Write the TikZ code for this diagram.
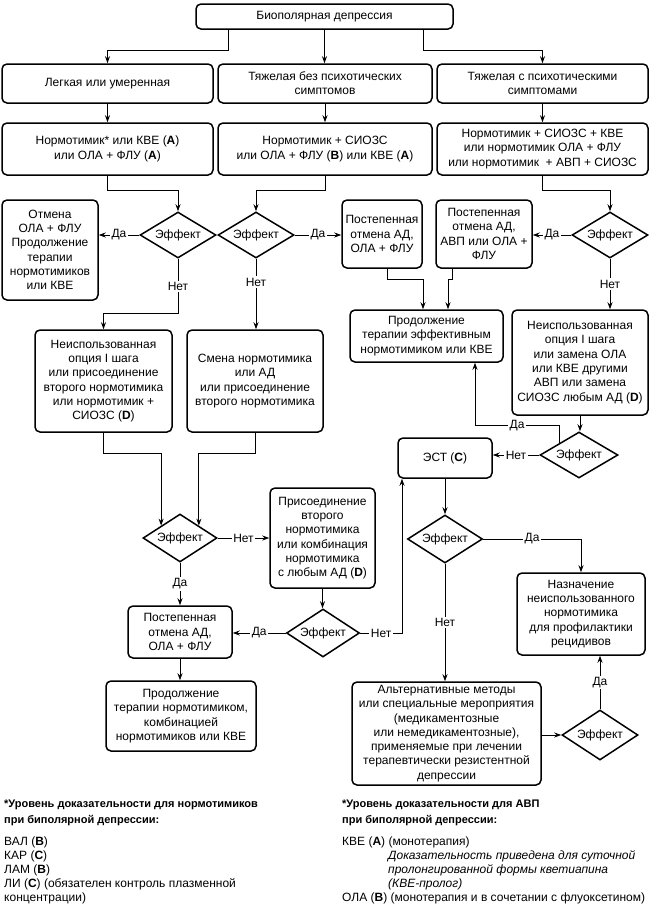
\documentclass[tikz,border=0pt]{standalone}
\usepackage{fontspec}
\setmainfont{Liberation Sans}
\usetikzlibrary{shapes.geometric,arrows.meta}
\begin{document}
\begin{tikzpicture}[x=1pt,y=-1pt,
 every node/.style={font=\fontsize{12}{14.3}\selectfont},
 box/.style={draw, rounded corners=5pt, line width=1.5pt, align=center, inner sep=1pt},
 dia/.style={draw, diamond, line width=1.5pt, inner sep=0pt, shape aspect=1.65},
 arr/.style={line width=1pt, -{Stealth[length=7pt,width=5pt]}},
 lbl/.style={fill=white, inner sep=1.5pt},
 fn/.style={anchor=west, inner sep=0pt},
 fnh/.style={anchor=west, inner sep=0pt, font=\bfseries\fontsize{11}{13.5}\selectfont},
 fni/.style={anchor=west, inner sep=0pt, font=\itshape\fontsize{12}{14.3}\selectfont},
]
\useasboundingbox[fill=white] (0,0) rectangle (650,914);

\node[box, minimum width=257pt, minimum height=25pt] (top) at (324.5,16.5) {Биополярная депрессия};

\node[box, minimum width=211pt, minimum height=39pt] (a1) at (107.5,83.5) {Легкая или умеренная};
\node[box, minimum width=214pt, minimum height=39pt] (a2) at (325,83.5) {Тяжелая без психотических\\симптомов};
\node[box, minimum width=211pt, minimum height=39pt] (a3) at (542.5,83.5) {Тяжелая с психотическими\\симптомами};

\node[box, minimum width=211pt, minimum height=52pt] (b1) at (107.5,149) {Нормотимик* или КВЕ (\textbf{A})\\или ОЛА + ФЛУ (\textbf{A})};
\node[box, minimum width=214pt, minimum height=52pt] (b2) at (325,149) {Нормотимик + СИОЗС\\или ОЛА + ФЛУ (\textbf{B}) или КВЕ (\textbf{A})};
\node[box, minimum width=211pt, minimum height=52pt] (b3) at (542.5,149) {Нормотимик + СИОЗС + КВЕ\\или нормотимик ОЛА + ФЛУ\\или нормотимик~ + АВП + СИОЗС};

\node[dia, minimum width=76pt, minimum height=46pt] (D1) at (178,235) {Эффект};
\node[dia, minimum width=76pt, minimum height=46pt] (D2) at (256,235) {Эффект};
\node[dia, minimum width=76pt, minimum height=46pt] (D3) at (610,235) {Эффект};

\node[box, minimum width=96pt, minimum height=100pt] (c1) at (50,250) {Отмена\\ОЛА + ФЛУ\\Продолжение\\терапии\\нормотимиков\\или КВЕ};
\node[box, minimum width=80pt, minimum height=68pt] (c2) at (382,234) {Постепенная\\отмена АД,\\ОЛА + ФЛУ};
\node[box, minimum width=96pt, minimum height=68pt] (c3) at (484,234) {Постепенная\\отмена АД,\\АВП или ОЛА +\\ФЛУ};

\node[box, minimum width=153pt, minimum height=52pt] (d) at (426.5,336) {Продолжение\\терапии эффективным\\нормотимиком или КВЕ};

\node[box, minimum width=137pt, minimum height=102pt] (e1) at (103.5,381) {Неиспользованная\\опция I шага\\или присоединение\\второго нормотимика\\или нормотимик +\\СИОЗС (\textbf{D})};
\node[box, minimum width=136pt, minimum height=102pt] (e2) at (255,381) {Смена нормотимика\\или АД\\или присоединение\\второго нормотимика};
\node[box, minimum width=136pt, minimum height=105pt] (e3) at (580,362.5) {Неиспользованная\\опция I шага\\или замена ОЛА\\или КВЕ другими\\АВП или замена\\СИОЗС любым АД (\textbf{D})};

\node[dia, minimum width=78pt, minimum height=46pt] (D4) at (579,455) {Эффект};
\node[box, minimum width=94pt, minimum height=40pt] (EST) at (445,458) {ЭСТ (\textbf{C})};
\node[dia, minimum width=75pt, minimum height=48pt] (D5) at (445,539) {Эффект};
\node[box, minimum width=128pt, minimum height=82pt] (NA) at (581,614) {Назначение\\неиспользованного\\нормотимика\\для профилактики\\рецидивов};
\node[box, minimum width=189pt, minimum height=103pt] (ALT) at (446.5,733.5) {Альтернативные методы\\или специальные мероприятия\\(медикаментозные\\или немедикаментозные),\\применяемые при лечении\\терапевтически резистентной\\депрессии};
\node[dia, minimum width=76pt, minimum height=50pt] (D6) at (600,735) {Эффект};

\node[dia, minimum width=74pt, minimum height=48pt] (D7) at (180,538) {Эффект};
\node[box, minimum width=105pt, minimum height=100pt] (PR) at (322.5,538) {Присоединение\\второго\\нормотимика\\или комбинация\\нормотимика\\с любым АД (\textbf{D})};
\node[dia, minimum width=73pt, minimum height=48pt] (D8) at (323,633) {Эффект};
\node[box, minimum width=104pt, minimum height=52pt] (PB2) at (180,632) {Постепенная\\отмена АД,\\ОЛА + ФЛУ};
\node[box, minimum width=150pt, minimum height=70pt] (PK) at (181,716) {Продолжение\\терапии нормотимиком,\\комбинацией\\нормотимиков или КВЕ};

% connectors
\draw[arr] ([xshift=-96.5pt]top.south) -- ++(0,21) -| (a1.north);
\draw[arr] (top.south) -- (top.south |- a2.north);
\draw[arr] ([xshift=98.5pt]top.south) -- ++(0,21) -| (a3.north);
\draw[arr] (a1) -- (b1);
\draw[arr] (a2) -- (b2);
\draw[arr] (a3) -- (b3);
\draw[arr] (b1.south) -- ++(0,15) -| (D1.north);
\draw[arr] (b2.south) -- ++(0,15) -| (D2.north);
\draw[arr] (b3.south) -- ++(0,15) -| (D3.north);
\draw[arr] (D1.west) -- node[lbl]{Да} (D1.west -| c1.east);
\draw[arr] (D2.east) -- node[lbl]{Да} (D2.east -| c2.west);
\draw[arr] (D3.west) -- node[lbl]{Да} (D3.west -| c3.east);
\draw[arr] ([xshift=5pt]c2.south) -- ++(0,11) -| ([xshift=-3.5pt]d.north);
\draw[arr] ([xshift=-32pt]c3.south) -- ++(0,11) -| ([xshift=21.5pt]d.north);
\draw[arr] (D1.south) -- node[lbl,pos=0.5]{Нет} ++(0,55) -| (e1.north);
\draw[arr] (D2.south) -- node[lbl,pos=0.33]{Нет} (D2.south |- e2.north);
\draw[arr] (D3.south) -- node[lbl]{Нет} (D3.south |- e3.north);
\draw[arr] (e3.south) -- (e3.south |- D4.north);
\draw[arr] (D4.north west) -- ++(0,-18) -| node[lbl,pos=0.25]{Да} ([xshift=48.5pt]d.south);
\draw[arr] (D4.west) -- node[lbl]{Нет} (D4.west -| EST.east);
\draw[arr] (EST.south) -- (D5.north);
\draw[arr] (D5.east) -| node[lbl,pos=0.25]{Да} (NA.north);
\draw[arr] (D5.south) -- node[lbl]{Нет} (D5.south |- ALT.north);
\draw[arr] (D6.west -| ALT.east) -- (D6.west);
\draw[arr] (D6.north) -- node[lbl]{Да} (D6.north |- NA.south);
\draw[arr] (e1.south) -- ++(0,21) -| (D7.north west);
\draw[arr] (e2.south) -- ++(0,21) -| (D7.north east);
\draw[arr] (D7.east) -- node[lbl]{Нет} (D7.east -| PR.west);
\draw[arr] (D7.south) -- node[lbl]{Да} (PB2.north);
\draw[arr] (PR.south) -- (PR.south |- D8.north);
\draw[arr] (D8.west) -- node[lbl]{Да} (D8.west -| PB2.east);
\draw[arr] (D8.east) -| node[lbl,pos=0.25]{Нет} ([xshift=-43pt]EST.south);
\draw[arr] (PB2.south) -- (PB2.south |- PK.north);

% footnotes
\node[fnh] (f1) at (4,805) {*Уровень доказательности для нормотимиков};
\node[fnh] (f2) at (4,821) {при биполярной депрессии:};
\node[fn] (f3) at (4,842) {ВАЛ (\textbf{B})};
\node[fn] (f4) at (4,856) {КАР (\textbf{C})};
\node[fn] (f5) at (4,870) {ЛАМ (\textbf{B})};
\node[fn] (f6) at (4,884) {ЛИ (\textbf{C}) (обязателен контроль плазменной};
\node[fn] (f7) at (4,898) {концентрации)};

\node[fnh] (g1) at (342,805) {*Уровень доказательности для АВП};
\node[fnh] (g2) at (342,821) {при биполярной депрессии:};
\node[fn] (g3) at (342,842) {КВЕ (\textbf{A}) (монотерапия)};
\node[fni] (g4) at (388,856) {Доказательность приведена для суточной};
\node[fni] (g5) at (388,870) {пролонгированной формы кветиапина};
\node[fni] (g6) at (388,884) {(КВЕ-пролог)};
\node[fn] (g7) at (342,898) {ОЛА (\textbf{B}) (монотерапия и в сочетании с флуоксетином)};
\end{tikzpicture}
\end{document}
